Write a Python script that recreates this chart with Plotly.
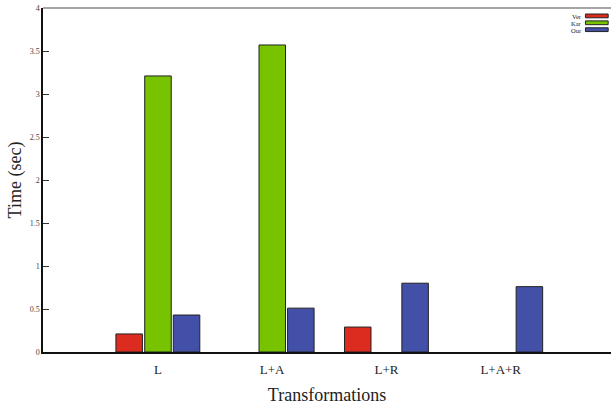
import plotly.graph_objects as go

categories = ["L", "L+A", "L+R", "L+A+R"]
cat_pos = [0, 1, 2, 3]
ver = [0.21, None, 0.29, None]
kar = [3.21, 3.57, None, None]
our = [0.43, 0.51, 0.80, 0.76]
y_ticks = [0, 0.5, 1, 1.5, 2, 2.5, 3, 3.5, 4]
y_ticklabels = ["0", "0.5", "1", "1.5", "2", "2.5", "3", "3.5", "4"]

series = [("Ver", ver, "#dc2b1f", -0.367), ("Kar", kar, "#77c300", -0.115), ("Our", our, "#4350a8", 0.135)]

fig = go.Figure()
for name, vals, color, off in series:
    fig.add_trace(go.Bar(
        x=cat_pos, y=vals, name=name, width=0.232, offset=off,
        marker=dict(color=color, line=dict(color="#222222", width=1)),
        showlegend=False,
    ))

serif = "Liberation Serif, Times New Roman, serif"

# legend drawn as text + swatches (text left of swatch, as in the original)
shapes = [dict(type="line", xref="paper", yref="paper", x0=0, x1=1, y0=1, y1=1,
               line=dict(color="#888888", width=1.5))]
annotations = []
leg_y = [0.977, 0.957, 0.937]
for (name, _, color, _), yy in zip(series, leg_y):
    shapes.append(dict(type="rect", xref="paper", yref="paper", x0=0.955, x1=0.995,
                       y0=yy - 0.0055, y1=yy + 0.0055, fillcolor=color,
                       line=dict(color="#222222", width=1)))
    annotations.append(dict(xref="paper", yref="paper", x=0.951, y=yy, text=name,
                            showarrow=False, xanchor="right", yanchor="middle",
                            borderpad=0, height=6,
                            font=dict(size=6.5, family=serif, color="#222222")))

fig.update_layout(
    width=611, height=406,
    margin=dict(l=43, r=0, t=8, b=54, autoexpand=False),
    plot_bgcolor="white", paper_bgcolor="white",
    barmode="overlay",
    font=dict(family=serif, color="#222222"),
    showlegend=False,
    xaxis=dict(range=[-1.005, 3.965], tickvals=cat_pos, ticktext=categories, automargin=False,
               showgrid=False, zeroline=False, showline=True, linecolor="#111111", linewidth=1.5,
               ticks="", ticklabelstandoff=5, tickfont=dict(size=13, family=serif, color="#222222"),
               title=dict(text="Transformations", font=dict(size=18, family=serif, color="#222222"), standoff=12)),
    yaxis=dict(range=[0, 4], tickvals=y_ticks, ticktext=y_ticklabels, automargin=False,
               showgrid=False, zeroline=False, showline=True, linecolor="#111111", linewidth=1.5,
               ticks="inside", ticklen=6, tickcolor="#333333",
               tickfont=dict(size=8, family=serif, color="#444444"),
               title=dict(text="Time (sec)", font=dict(size=18, family=serif, color="#222222"), standoff=3)),
    yaxis2=dict(range=[0, 4], overlaying="y", side="right", tickvals=y_ticks, automargin=False,
                showticklabels=False, ticks="inside", ticklen=5, tickcolor="#333333",
                showgrid=False, zeroline=False, showline=False),
    shapes=shapes,
    annotations=annotations,
)
fig.write_html("out.html", config={"displayModeBar": False},
               post_script="document.body.style.margin='0';")
